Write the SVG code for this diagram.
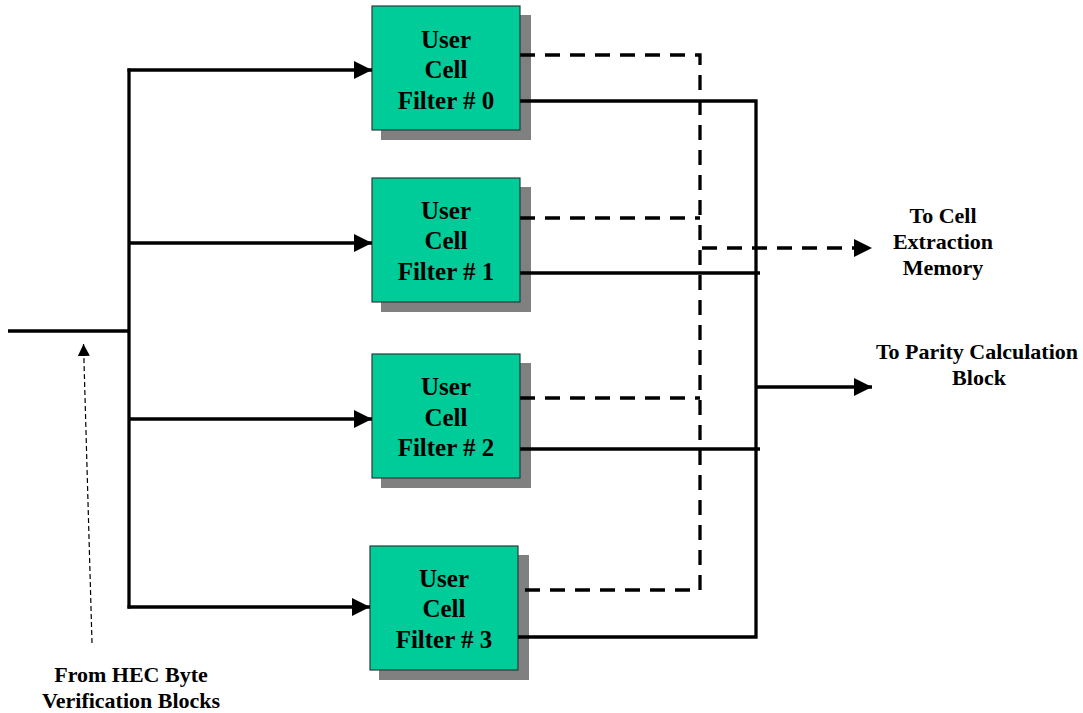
<svg xmlns="http://www.w3.org/2000/svg" width="1083" height="713" viewBox="0 0 1083 713">
<style>
.shadow{fill:#808080;stroke:none}
.box{fill:#00CC99;stroke:#2b3b36;stroke-width:1.2}
.t{font-family:"Liberation Serif","Times New Roman",serif;font-weight:bold;fill:#000;text-anchor:middle}
.bt{font-size:25px}
.lt{font-size:22px}
.solid{fill:none;stroke:#000;stroke-width:3.3}
.dash{fill:none;stroke:#000;stroke-width:3.3;stroke-dasharray:15 10}
.thin{fill:none;stroke:#000;stroke-width:1.2;stroke-dasharray:5 3}
</style>
<defs>
<marker id="ah" markerUnits="userSpaceOnUse" markerWidth="20" markerHeight="18" refX="18" refY="9" orient="auto">
<path d="M0,0 L18,9 L0,18 Z" fill="#000"/>
</marker>
<marker id="ahs" markerUnits="userSpaceOnUse" markerWidth="14" markerHeight="12" refX="12" refY="6" orient="auto">
<path d="M0,0 L12,6 L0,12 Z" fill="#000"/>
</marker>
</defs>
<g id="filter0">
<rect class="shadow" x="381" y="15" width="150" height="125"/>
<rect class="box" x="372" y="6" width="148" height="124"/>
<text class="t bt" x="446" y="48">User</text>
<text class="t bt" x="446" y="78">Cell</text>
<text class="t bt" x="446" y="109">Filter # 0</text>
</g>
<g id="filter1">
<rect class="shadow" x="381" y="187" width="150" height="125"/>
<rect class="box" x="372" y="178" width="148" height="124"/>
<text class="t bt" x="446" y="219">User</text>
<text class="t bt" x="446" y="249">Cell</text>
<text class="t bt" x="446" y="280">Filter # 1</text>
</g>
<g id="filter2">
<rect class="shadow" x="381" y="363" width="150" height="125"/>
<rect class="box" x="372" y="354" width="148" height="124"/>
<text class="t bt" x="446" y="395">User</text>
<text class="t bt" x="446" y="426">Cell</text>
<text class="t bt" x="446" y="456">Filter # 2</text>
</g>
<g id="filter3">
<rect class="shadow" x="379" y="555" width="150" height="125"/>
<rect class="box" x="370" y="546" width="148" height="124"/>
<text class="t bt" x="444" y="587">User</text>
<text class="t bt" x="444" y="617">Cell</text>
<text class="t bt" x="444" y="648">Filter # 3</text>
</g>
<g id="connectors">
<line class="solid" x1="8" y1="331" x2="129" y2="331"/>
<line class="solid" x1="129" y1="68.5" x2="129" y2="608.5"/>
<line class="solid" x1="127.5" y1="70" x2="372" y2="70" marker-end="url(#ah)"/>
<line class="solid" x1="129" y1="243" x2="372" y2="243" marker-end="url(#ah)"/>
<line class="solid" x1="129" y1="419" x2="372" y2="419" marker-end="url(#ah)"/>
<line class="solid" x1="127.5" y1="607" x2="370" y2="607" marker-end="url(#ah)"/>
<line class="thin" x1="92" y1="643" x2="83.5" y2="344" marker-end="url(#ahs)"/>
<path class="dash" d="M520,55 H700 V590 H518"/>
<line class="dash" x1="520" y1="218" x2="700" y2="218"/>
<line class="dash" x1="520" y1="398" x2="700" y2="398"/>
<line class="dash" x1="702" y1="248" x2="872" y2="248" marker-end="url(#ah)"/>
<path class="solid" d="M520,101 H756 V637 H518"/>
<line class="solid" x1="520" y1="273" x2="760" y2="273"/>
<line class="solid" x1="520" y1="449" x2="760" y2="449"/>
<line class="solid" x1="756" y1="387" x2="872" y2="387" marker-end="url(#ah)"/>
</g>
<g id="label-extraction">
<text class="t lt" x="943" y="223">To Cell</text>
<text class="t lt" x="943" y="249">Extraction</text>
<text class="t lt" x="943" y="275">Memory</text>
</g>
<g id="label-parity">
<text class="t lt" x="977" y="359">To Parity Calculation</text>
<text class="t lt" x="979" y="385">Block</text>
</g>
<g id="label-hec">
<text class="t lt" x="131" y="682">From HEC Byte</text>
<text class="t lt" x="131" y="708">Verification Blocks</text>
</g>
</svg>
